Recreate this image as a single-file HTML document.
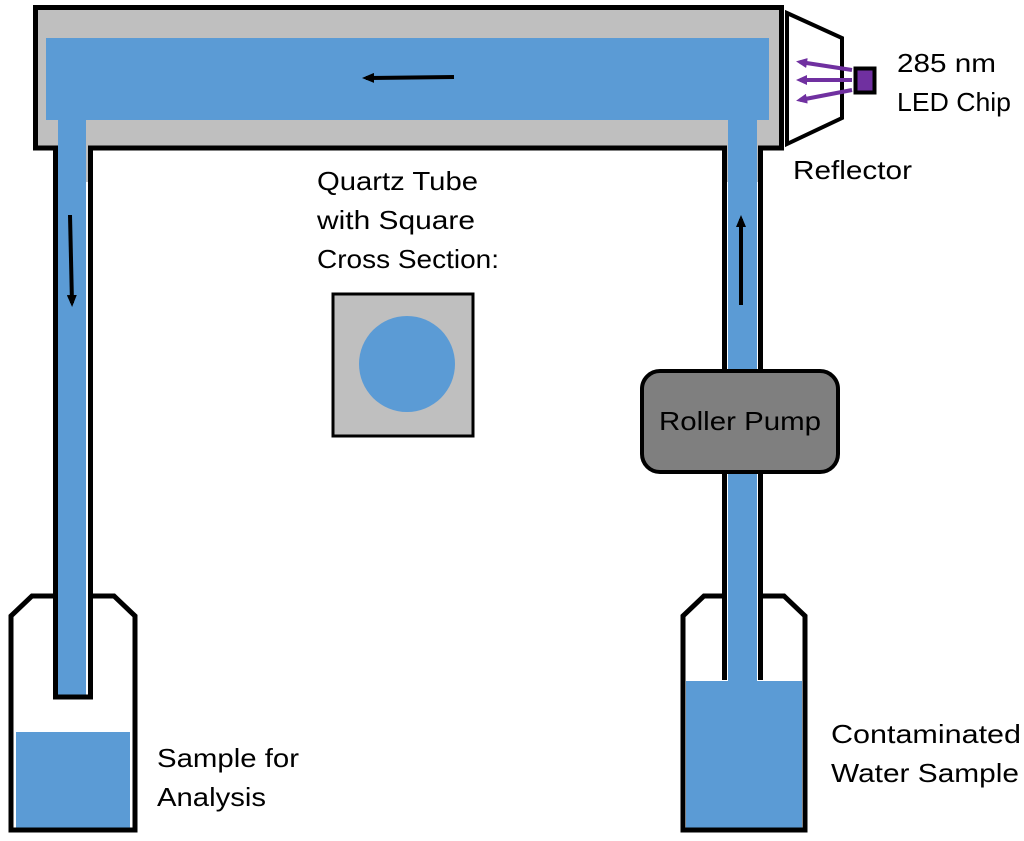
<!DOCTYPE html>
<html><head><meta charset="utf-8"><style>
html,body{margin:0;padding:0;background:#fff;}
svg{display:block;}
text{font-family:"Liberation Sans",sans-serif;font-size:26px;fill:#000;}
</style></head><body>
<svg width="1024" height="841" viewBox="0 0 1024 841" xmlns="http://www.w3.org/2000/svg">
<defs>
<marker id="ab" markerWidth="12" markerHeight="10" refX="8" refY="5" orient="auto" markerUnits="userSpaceOnUse"><path d="M0,0 L12,5 L0,10 Z" fill="#000"/></marker>
<marker id="ap" markerWidth="11" markerHeight="10" refX="7" refY="5" orient="auto" markerUnits="userSpaceOnUse"><path d="M0,0 L11,5 L0,10 Z" fill="#7030a0"/></marker>
</defs>
<!-- gray fills -->
<rect x="37" y="9" width="743" height="137" fill="#bfbfbf"/>
<rect x="55" y="146" width="36" height="36" fill="#bfbfbf"/>
<rect x="724" y="146" width="36" height="36" fill="#bfbfbf"/>
<rect x="46" y="38" width="723" height="82" fill="#5b9bd5"/>
<!-- pipes blue -->
<rect x="58" y="120" width="28" height="576" fill="#5b9bd5"/>
<rect x="728" y="120" width="29" height="712" fill="#5b9bd5"/>
<!-- top tube outline -->
<path d="M55.5,180 V148 H35.5 V7.5 H781.5 V148 H760.5 V180" fill="none" stroke="#000" stroke-width="5"/>
<path d="M90.5,180 V148 H724.5 V180" fill="none" stroke="#000" stroke-width="5"/>
<!-- pipe walls -->
<path d="M55.5,180 V697 H90.5 V180" fill="none" stroke="#000" stroke-width="5"/>
<path d="M724.5,180 V680 M760.5,180 V680" fill="none" stroke="#000" stroke-width="5"/>
<!-- left bottle -->
<rect x="16" y="732" width="114" height="96" fill="#5b9bd5"/>
<path d="M53,596 H32 L11,616 V830 H135 V616 L114,596 H93" fill="none" stroke="#000" stroke-width="5"/>
<!-- right bottle -->
<rect x="686" y="681" width="116" height="147" fill="#5b9bd5"/>
<path d="M722,596 H704 L683,616 V830 H805 V616 L784,596 H763" fill="none" stroke="#000" stroke-width="5"/>
<!-- pump -->
<rect x="642" y="371" width="196" height="101" rx="18" fill="#7f7f7f" stroke="#000" stroke-width="4"/>
<text x="740" y="430" text-anchor="middle" textLength="162" lengthAdjust="spacingAndGlyphs">Roller Pump</text>
<!-- cross section -->
<rect x="333" y="294" width="140" height="142" fill="#bfbfbf" stroke="#000" stroke-width="3"/>
<circle cx="407" cy="364" r="48" fill="#5b9bd5"/>
<!-- reflector -->
<path d="M787,13 L842,38 L842,118 L787,144 Z" fill="#fff" stroke="#000" stroke-width="4"/>
<rect x="855.5" y="68.5" width="19" height="24" fill="#7030a0" stroke="#000" stroke-width="4"/>
<line x1="852" y1="70" x2="800" y2="62" stroke="#7030a0" stroke-width="4" marker-end="url(#ap)"/>
<line x1="852" y1="80" x2="800" y2="80" stroke="#7030a0" stroke-width="4" marker-end="url(#ap)"/>
<line x1="852" y1="90" x2="800" y2="100" stroke="#7030a0" stroke-width="4" marker-end="url(#ap)"/>
<!-- flow arrows -->
<line x1="454" y1="77" x2="366" y2="78" stroke="#000" stroke-width="4" marker-end="url(#ab)"/>
<line x1="70" y1="215" x2="72" y2="303" stroke="#000" stroke-width="4" marker-end="url(#ab)"/>
<line x1="741" y1="305" x2="741" y2="219" stroke="#000" stroke-width="4" marker-end="url(#ab)"/>
<!-- labels -->
<text x="897" y="72" textLength="99" lengthAdjust="spacingAndGlyphs">285 nm</text>
<text x="897" y="111" textLength="114" lengthAdjust="spacingAndGlyphs">LED Chip</text>
<text x="793" y="179" textLength="119" lengthAdjust="spacingAndGlyphs">Reflector</text>
<text x="317" y="190" textLength="161" lengthAdjust="spacingAndGlyphs">Quartz Tube</text>
<text x="317" y="229" textLength="158" lengthAdjust="spacingAndGlyphs">with Square</text>
<text x="317" y="268" textLength="182" lengthAdjust="spacingAndGlyphs">Cross Section:</text>
<text x="157" y="767" textLength="142" lengthAdjust="spacingAndGlyphs">Sample for</text>
<text x="157" y="806" textLength="109" lengthAdjust="spacingAndGlyphs">Analysis</text>
<text x="831" y="743" textLength="190" lengthAdjust="spacingAndGlyphs">Contaminated</text>
<text x="831" y="782" textLength="188" lengthAdjust="spacingAndGlyphs">Water Sample</text>
</svg>
</body></html>
